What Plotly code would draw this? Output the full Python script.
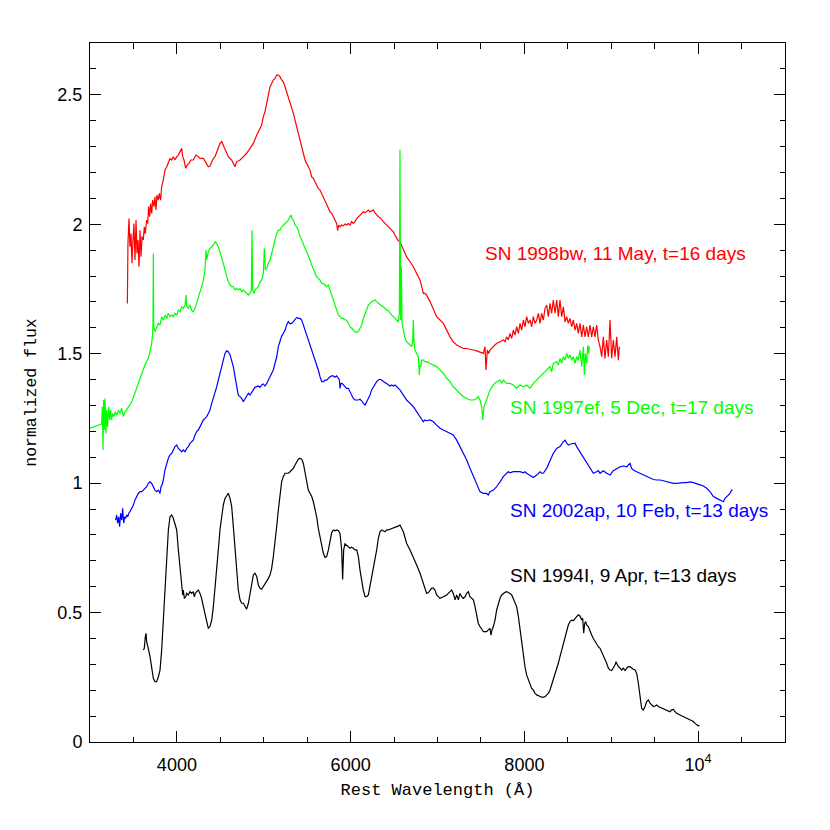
import plotly.graph_objects as go

# ---------------- data (rest wavelength in Angstrom, normalized flux) ----------------
wl_98bw = [3430, 3437, 3449, 3460, 3472, 3483, 3495, 3506, 3518, 3530, 3541, 3553, 3564, 3576, 3587, 3599,
           3614, 3625, 3637, 3652, 3664, 3675, 3687, 3698, 3710, 3721, 3737, 3748, 3760, 3771, 3787, 3798,
           3813, 3825, 3844, 3863, 3883, 3902, 3921, 3940, 3959, 3978, 3998, 4017, 4036, 4055, 4067, 4082,
           4101, 4120, 4140, 4159, 4189, 4220, 4247, 4266, 4305, 4343, 4362, 4381, 4401, 4420, 4439, 4458,
           4477, 4496, 4516, 4535, 4554, 4573, 4592, 4612, 4631, 4650, 4669, 4688, 4727, 4765, 4803, 4842,
           4880, 4919, 4957, 4976, 4995, 5014, 5034, 5053, 5072, 5091, 5110, 5130, 5149, 5168, 5187, 5206,
           5225, 5245, 5264, 5283, 5302, 5321, 5341, 5360, 5379, 5398, 5417, 5437, 5456, 5475, 5494, 5513,
           5532, 5552, 5571, 5590, 5609, 5628, 5648, 5667, 5686, 5705, 5724, 5744, 5763, 5782, 5801, 5820,
           5839, 5851, 5862, 5878, 5897, 5916, 5935, 5954, 5974, 5993, 6012, 6031, 6050, 6070, 6089, 6108,
           6127, 6146, 6166, 6185, 6204, 6223, 6242, 6262, 6281, 6300, 6319, 6338, 6357, 6377, 6396, 6415,
           6434, 6453, 6473, 6492, 6511, 6530, 6549, 6568, 6607, 6645, 6684, 6722, 6760, 6799, 6818, 6837,
           6856, 6875, 6914, 6952, 6990, 7029, 7067, 7106, 7144, 7182, 7221, 7259, 7297, 7336, 7374, 7413,
           7451, 7489, 7528, 7547, 7558, 7574, 7589, 7604, 7643, 7681, 7720, 7758, 7777, 7796, 7815, 7835,
           7854, 7873, 7892, 7911, 7931, 7950, 7969, 7988, 8007, 8026, 8046, 8065, 8084, 8103, 8122, 8142,
           8161, 8180, 8199, 8218, 8238, 8257, 8276, 8295, 8314, 8333, 8353, 8372, 8391, 8410, 8429, 8449,
           8468, 8487, 8506, 8525, 8544, 8564, 8583, 8602, 8621, 8640, 8660, 8679, 8698, 8717, 8736, 8756,
           8775, 8794, 8813, 8832, 8851, 8871, 8890, 8909, 8928, 8947, 8967, 8986, 9005, 9024, 9043, 9063,
           9082, 9093]
fx_98bw = [1.694, 1.926, 2.022, 1.913, 1.964, 1.849, 1.939, 2.003, 1.862, 2.016, 1.887, 1.939, 1.836, 1.977, 1.874, 1.952,
           1.939, 1.990, 1.964, 2.016, 2.003, 2.068, 2.029, 2.080, 2.042, 2.093, 2.068, 2.106, 2.055, 2.113, 2.093, 2.119,
           2.093, 2.145, 2.171, 2.209, 2.222, 2.235, 2.254, 2.248, 2.261, 2.248, 2.261, 2.267, 2.280, 2.293, 2.261, 2.248,
           2.216, 2.229, 2.235, 2.248, 2.248, 2.267, 2.261, 2.254, 2.254, 2.235, 2.222, 2.225, 2.241, 2.254, 2.261, 2.280,
           2.293, 2.312, 2.319, 2.306, 2.293, 2.280, 2.261, 2.254, 2.248, 2.235, 2.222, 2.241, 2.248, 2.261, 2.274, 2.293,
           2.312, 2.344, 2.370, 2.383, 2.415, 2.434, 2.467, 2.505, 2.531, 2.544, 2.557, 2.563, 2.576, 2.576, 2.570, 2.557,
           2.550, 2.531, 2.512, 2.492, 2.473, 2.454, 2.428, 2.402, 2.377, 2.351, 2.325, 2.293, 2.267, 2.248, 2.235, 2.222,
           2.209, 2.183, 2.177, 2.164, 2.151, 2.138, 2.132, 2.119, 2.106, 2.093, 2.080, 2.061, 2.048, 2.042, 2.029, 2.016,
           2.003, 1.975, 1.997, 1.990, 1.997, 1.994, 2.001, 1.997, 2.003, 1.997, 2.010, 2.003, 2.010, 2.022, 2.029, 2.035,
           2.042, 2.048, 2.044, 2.048, 2.055, 2.048, 2.052, 2.055, 2.044, 2.035, 2.029, 2.026, 2.016, 2.010, 2.003, 1.997,
           1.990, 1.984, 1.977, 1.971, 1.958, 1.945, 1.936, 1.932, 1.900, 1.874, 1.855, 1.836, 1.810, 1.784, 1.759, 1.733,
           1.733, 1.726, 1.701, 1.675, 1.643, 1.630, 1.617, 1.591, 1.565, 1.546, 1.533, 1.527, 1.520, 1.520, 1.516, 1.514,
           1.511, 1.507, 1.501, 1.527, 1.437, 1.514, 1.501, 1.514, 1.527, 1.540, 1.546, 1.553, 1.546, 1.565, 1.553, 1.578,
           1.559, 1.591, 1.572, 1.604, 1.578, 1.617, 1.591, 1.630, 1.604, 1.643, 1.617, 1.630, 1.604, 1.643, 1.617, 1.630,
           1.656, 1.617, 1.656, 1.630, 1.675, 1.688, 1.643, 1.694, 1.656, 1.707, 1.656, 1.707, 1.643, 1.707, 1.643, 1.681,
           1.623, 1.643, 1.617, 1.636, 1.604, 1.630, 1.591, 1.617, 1.578, 1.617, 1.565, 1.610, 1.565, 1.604, 1.565, 1.610,
           1.565, 1.604, 1.565, 1.610, 1.553, 1.527, 1.488, 1.565, 1.482, 1.553, 1.488, 1.630, 1.482, 1.553, 1.488, 1.565,
           1.475, 1.527]

wl_97ef = [3000, 3134, 3142, 3150, 3157, 3165, 3173, 3184, 3192, 3203, 3215, 3226, 3238, 3249, 3261, 3276,
           3292, 3307, 3326, 3345, 3365, 3384, 3403, 3422, 3441, 3460, 3480, 3499, 3518, 3537, 3556, 3576,
           3595, 3614, 3633, 3652, 3671, 3691, 3710, 3721, 3725, 3729, 3733, 3748, 3767, 3787, 3806, 3825,
           3844, 3863, 3883, 3902, 3921, 3940, 3959, 3978, 3998, 4017, 4036, 4055, 4074, 4094, 4105, 4113,
           4132, 4151, 4170, 4189, 4209, 4228, 4247, 4266, 4285, 4305, 4324, 4335, 4343, 4362, 4381, 4401,
           4420, 4439, 4458, 4477, 4496, 4516, 4535, 4554, 4573, 4592, 4612, 4631, 4650, 4669, 4688, 4707,
           4727, 4746, 4765, 4784, 4803, 4823, 4842, 4857, 4865, 4872, 4888, 4899, 4919, 4938, 4957, 4976,
           4995, 5007, 5018, 5034, 5053, 5072, 5091, 5110, 5130, 5149, 5168, 5187, 5206, 5225, 5245, 5264,
           5283, 5302, 5314, 5325, 5341, 5360, 5379, 5398, 5417, 5437, 5456, 5475, 5494, 5513, 5532, 5552,
           5571, 5590, 5609, 5628, 5648, 5667, 5686, 5705, 5724, 5744, 5763, 5782, 5801, 5820, 5839, 5859,
           5878, 5897, 5916, 5935, 5954, 5974, 5993, 6012, 6031, 6050, 6070, 6089, 6108, 6127, 6146, 6166,
           6185, 6204, 6223, 6242, 6262, 6281, 6300, 6319, 6338, 6357, 6377, 6396, 6415, 6434, 6453, 6473,
           6492, 6511, 6530, 6549, 6561, 6568, 6576, 6584, 6592, 6607, 6626, 6645, 6664, 6684, 6703, 6714,
           6722, 6730, 6741, 6760, 6779, 6791, 6799, 6806, 6818, 6837, 6856, 6875, 6914, 6952, 6990, 7029,
           7067, 7106, 7144, 7182, 7221, 7259, 7297, 7336, 7374, 7413, 7451, 7470, 7489, 7509, 7520, 7535,
           7558, 7578, 7604, 7643, 7681, 7720, 7739, 7758, 7796, 7835, 7873, 7911, 7950, 7988, 8026, 8065,
           8103, 8142, 8180, 8218, 8257, 8295, 8314, 8333, 8372, 8391, 8410, 8429, 8449, 8468, 8487, 8506,
           8525, 8544, 8564, 8583, 8602, 8621, 8640, 8660, 8679, 8690, 8702, 8717, 8729, 8740, 8748]
fx_97ef = [1.212, 1.228, 1.295, 1.128, 1.321, 1.205, 1.327, 1.192, 1.282, 1.218, 1.295, 1.244, 1.282, 1.244, 1.269, 1.257,
           1.276, 1.263, 1.282, 1.269, 1.289, 1.257, 1.276, 1.282, 1.295, 1.302, 1.314, 1.334, 1.347, 1.366, 1.385, 1.405,
           1.424, 1.443, 1.456, 1.469, 1.482, 1.508, 1.540, 1.578, 1.617, 1.887, 1.604, 1.585, 1.604, 1.617, 1.610, 1.643,
           1.630, 1.649, 1.636, 1.656, 1.643, 1.649, 1.643, 1.656, 1.649, 1.668, 1.662, 1.681, 1.675, 1.688, 1.726, 1.681,
           1.675, 1.688, 1.668, 1.662, 1.675, 1.694, 1.713, 1.733, 1.759, 1.784, 1.823, 1.900, 1.862, 1.894, 1.907, 1.913,
           1.920, 1.932, 1.926, 1.913, 1.894, 1.874, 1.849, 1.823, 1.797, 1.778, 1.765, 1.759, 1.759, 1.746, 1.752, 1.746,
           1.752, 1.739, 1.746, 1.739, 1.733, 1.726, 1.733, 1.746, 1.977, 1.746, 1.733, 1.746, 1.752, 1.759, 1.778, 1.784,
           1.810, 1.907, 1.823, 1.829, 1.849, 1.862, 1.887, 1.913, 1.939, 1.964, 1.977, 1.977, 1.990, 1.997, 2.003, 2.010,
           2.016, 2.029, 2.035, 2.022, 2.016, 1.997, 1.990, 1.977, 1.952, 1.939, 1.920, 1.907, 1.894, 1.881, 1.862, 1.842,
           1.829, 1.816, 1.797, 1.791, 1.784, 1.771, 1.771, 1.765, 1.759, 1.765, 1.746, 1.726, 1.707, 1.681, 1.662, 1.649,
           1.643, 1.636, 1.636, 1.630, 1.630, 1.617, 1.604, 1.598, 1.591, 1.585, 1.582, 1.585, 1.598, 1.610, 1.636, 1.656,
           1.675, 1.688, 1.694, 1.701, 1.704, 1.707, 1.701, 1.694, 1.688, 1.684, 1.681, 1.675, 1.668, 1.666, 1.656, 1.649,
           1.643, 1.636, 1.630, 1.623, 1.656, 2.289, 1.630, 1.836, 1.617, 1.590, 1.559, 1.546, 1.540, 1.533, 1.527, 1.546,
           1.630, 1.540, 1.514, 1.501, 1.488, 1.418, 1.456, 1.450, 1.475, 1.475, 1.469, 1.469, 1.462, 1.456, 1.450, 1.437,
           1.424, 1.405, 1.392, 1.372, 1.360, 1.347, 1.334, 1.327, 1.321, 1.321, 1.327, 1.334, 1.321, 1.295, 1.244, 1.295,
           1.321, 1.334, 1.360, 1.379, 1.392, 1.398, 1.385, 1.398, 1.385, 1.385, 1.379, 1.366, 1.379, 1.372, 1.379, 1.366,
           1.385, 1.398, 1.411, 1.424, 1.437, 1.450, 1.430, 1.463, 1.469, 1.456, 1.482, 1.463, 1.488, 1.475, 1.501, 1.482,
           1.495, 1.475, 1.488, 1.463, 1.488, 1.475, 1.514, 1.450, 1.527, 1.418, 1.501, 1.463, 1.533, 1.501, 1.527]

wl_02ap = [3295, 3307, 3318, 3330, 3341, 3353, 3365, 3376, 3388, 3399, 3411, 3422, 3434, 3445, 3460, 3480,
           3499, 3518, 3537, 3556, 3576, 3595, 3614, 3633, 3652, 3671, 3691, 3710, 3729, 3748, 3767, 3787,
           3806, 3817, 3829, 3844, 3863, 3883, 3902, 3921, 3940, 3959, 3978, 3998, 4017, 4036, 4055, 4074,
           4094, 4113, 4132, 4151, 4170, 4189, 4209, 4228, 4247, 4266, 4285, 4305, 4324, 4343, 4362, 4381,
           4401, 4420, 4439, 4458, 4477, 4496, 4516, 4535, 4554, 4573, 4592, 4612, 4631, 4650, 4669, 4688,
           4707, 4727, 4746, 4765, 4777, 4788, 4803, 4823, 4842, 4861, 4880, 4899, 4919, 4938, 4957, 4976,
           4995, 5014, 5034, 5053, 5072, 5091, 5110, 5130, 5149, 5168, 5187, 5206, 5225, 5245, 5264, 5283,
           5302, 5321, 5341, 5360, 5379, 5398, 5417, 5437, 5456, 5475, 5494, 5513, 5532, 5552, 5571, 5590,
           5609, 5628, 5648, 5667, 5686, 5705, 5724, 5744, 5763, 5782, 5801, 5820, 5839, 5859, 5870, 5878,
           5889, 5901, 5916, 5935, 5954, 5974, 5993, 6012, 6031, 6050, 6070, 6089, 6108, 6127, 6146, 6166,
           6185, 6204, 6223, 6242, 6262, 6281, 6300, 6319, 6338, 6357, 6377, 6396, 6415, 6434, 6453, 6473,
           6492, 6511, 6530, 6549, 6568, 6607, 6645, 6684, 6722, 6760, 6799, 6837, 6856, 6875, 6914, 6952,
           6990, 7029, 7067, 7106, 7144, 7182, 7221, 7259, 7297, 7336, 7374, 7413, 7451, 7489, 7528, 7566,
           7585, 7604, 7643, 7681, 7720, 7758, 7796, 7815, 7835, 7873, 7911, 7950, 7988, 8007, 8026, 8065,
           8103, 8142, 8161, 8180, 8199, 8218, 8257, 8295, 8333, 8372, 8410, 8449, 8468, 8487, 8506, 8525,
           8564, 8583, 8602, 8640, 8679, 8717, 8756, 8775, 8794, 8832, 8851, 8871, 8890, 8909, 8947, 8986,
           9024, 9063, 9101, 9139, 9178, 9197, 9216, 9235, 9254, 9293, 9331, 9369, 9408, 9446, 9485, 9523,
           9561, 9600, 9638, 9676, 9715, 9753, 9792, 9830, 9868, 9907, 9945, 9983, 10022, 10060, 10099, 10137,
           10175, 10214, 10252, 10290, 10310, 10329, 10348, 10367, 10386, 10398]
fx_02ap = [0.857, 0.877, 0.845, 0.870, 0.832, 0.883, 0.857, 0.903, 0.845, 0.870, 0.864, 0.877, 0.870, 0.883, 0.890, 0.903,
           0.915, 0.935, 0.948, 0.960, 0.967, 0.967, 0.973, 0.980, 0.986, 0.999, 1.005, 0.999, 0.986, 0.973, 0.967, 0.973,
           0.960, 0.986, 0.993, 1.012, 1.051, 1.076, 1.096, 1.109, 1.115, 1.128, 1.141, 1.147, 1.134, 1.128, 1.121, 1.128,
           1.121, 1.134, 1.141, 1.154, 1.160, 1.166, 1.186, 1.199, 1.205, 1.218, 1.231, 1.244, 1.250, 1.257, 1.269, 1.282,
           1.308, 1.327, 1.347, 1.372, 1.398, 1.424, 1.450, 1.482, 1.501, 1.511, 1.508, 1.495, 1.475, 1.450, 1.411, 1.366,
           1.340, 1.334, 1.327, 1.314, 1.321, 1.327, 1.340, 1.347, 1.340, 1.353, 1.360, 1.370, 1.372, 1.375, 1.370, 1.379,
           1.383, 1.375, 1.385, 1.398, 1.405, 1.418, 1.437, 1.463, 1.488, 1.527, 1.553, 1.568, 1.578, 1.591, 1.611, 1.624,
           1.615, 1.617, 1.624, 1.633, 1.640, 1.636, 1.636, 1.630, 1.611, 1.591, 1.572, 1.559, 1.540, 1.521, 1.501, 1.475,
           1.456, 1.437, 1.411, 1.392, 1.392, 1.398, 1.398, 1.405, 1.411, 1.414, 1.414, 1.409, 1.414, 1.405, 1.398, 1.366,
           1.385, 1.385, 1.379, 1.372, 1.366, 1.366, 1.353, 1.340, 1.327, 1.321, 1.321, 1.321, 1.324, 1.318, 1.308, 1.302,
           1.314, 1.327, 1.340, 1.360, 1.372, 1.385, 1.392, 1.398, 1.401, 1.398, 1.392, 1.388, 1.385, 1.379, 1.375, 1.379,
           1.375, 1.379, 1.372, 1.366, 1.360, 1.340, 1.321, 1.308, 1.295, 1.276, 1.257, 1.237, 1.244, 1.241, 1.244, 1.237,
           1.224, 1.212, 1.205, 1.199, 1.192, 1.186, 1.166, 1.141, 1.115, 1.089, 1.057, 1.025, 0.993, 0.967, 0.960, 0.960,
           0.954, 0.967, 0.973, 0.986, 1.005, 1.025, 1.038, 1.044, 1.040, 1.044, 1.044, 1.044, 1.040, 1.044, 1.038, 1.031,
           1.022, 1.031, 1.038, 1.044, 1.038, 1.038, 1.057, 1.083, 1.115, 1.134, 1.141, 1.160, 1.166, 1.154, 1.147, 1.150,
           1.154, 1.154, 1.141, 1.121, 1.102, 1.083, 1.063, 1.051, 1.038, 1.044, 1.048, 1.038, 1.044, 1.048, 1.038, 1.031,
           1.048, 1.057, 1.063, 1.066, 1.063, 1.070, 1.076, 1.057, 1.051, 1.044, 1.038, 1.031, 1.025, 1.018, 1.014, 1.012,
           1.012, 1.009, 1.005, 1.002, 0.999, 0.999, 1.002, 1.002, 1.002, 1.005, 1.002, 0.999, 0.993, 0.989, 0.980, 0.967,
           0.948, 0.941, 0.935, 0.928, 0.941, 0.948, 0.954, 0.960, 0.973, 0.973]

wl_94I = [3614, 3625, 3637, 3645, 3652, 3664, 3675, 3691, 3702, 3714, 3729, 3748, 3767, 3787, 3806, 3825,
          3844, 3863, 3883, 3902, 3921, 3940, 3959, 3978, 3998, 4017, 4036, 4055, 4067, 4074, 4086, 4101,
          4113, 4132, 4151, 4170, 4189, 4201, 4212, 4228, 4247, 4266, 4285, 4305, 4324, 4343, 4362, 4381,
          4401, 4420, 4439, 4458, 4477, 4496, 4516, 4535, 4554, 4573, 4592, 4612, 4631, 4650, 4669, 4688,
          4707, 4727, 4746, 4765, 4784, 4803, 4823, 4842, 4861, 4880, 4899, 4919, 4938, 4957, 4976, 4995,
          5014, 5034, 5053, 5072, 5091, 5110, 5130, 5149, 5168, 5187, 5206, 5225, 5245, 5264, 5283, 5302,
          5321, 5341, 5360, 5379, 5398, 5417, 5437, 5456, 5475, 5494, 5513, 5532, 5552, 5571, 5590, 5609,
          5628, 5648, 5667, 5686, 5705, 5724, 5744, 5763, 5782, 5801, 5820, 5839, 5859, 5878, 5897, 5908,
          5920, 5935, 5954, 5974, 5993, 6012, 6031, 6050, 6070, 6089, 6108, 6127, 6146, 6166, 6185, 6204,
          6223, 6242, 6262, 6281, 6300, 6319, 6338, 6357, 6377, 6396, 6415, 6434, 6453, 6473, 6492, 6511,
          6530, 6549, 6568, 6607, 6645, 6684, 6722, 6760, 6799, 6837, 6856, 6875, 6895, 6914, 6933, 6952,
          6971, 6990, 7010, 7029, 7067, 7106, 7144, 7163, 7182, 7202, 7221, 7240, 7259, 7278, 7297, 7317,
          7336, 7355, 7374, 7393, 7413, 7432, 7451, 7470, 7489, 7509, 7528, 7547, 7566, 7585, 7604, 7616,
          7627, 7643, 7662, 7681, 7700, 7720, 7739, 7758, 7777, 7796, 7815, 7835, 7854, 7873, 7892, 7911,
          7931, 7950, 7969, 7988, 8007, 8026, 8046, 8065, 8084, 8103, 8122, 8142, 8180, 8199, 8218, 8238,
          8257, 8276, 8295, 8314, 8333, 8353, 8372, 8391, 8410, 8429, 8449, 8468, 8487, 8506, 8525, 8544,
          8564, 8583, 8602, 8621, 8640, 8660, 8671, 8683, 8694, 8706, 8717, 8736, 8756, 8775, 8794, 8813,
          8832, 8851, 8871, 8890, 8909, 8928, 8947, 8967, 8986, 9005, 9024, 9043, 9055, 9063, 9082, 9101,
          9120, 9139, 9159, 9178, 9197, 9216, 9235, 9254, 9274, 9293, 9312, 9331, 9350, 9369, 9389, 9408,
          9427, 9446, 9465, 9485, 9504, 9523, 9542, 9561, 9581, 9600, 9619, 9638, 9676, 9696, 9715, 9734,
          9753, 9792, 9830, 9868, 9907, 9945, 9964, 9983, 10003, 10014]
fx_94I = [0.355, 0.362, 0.407, 0.420, 0.388, 0.362, 0.355, 0.330, 0.304, 0.272, 0.246, 0.233, 0.233, 0.252, 0.278, 0.355,
          0.458, 0.587, 0.716, 0.819, 0.870, 0.877, 0.864, 0.845, 0.819, 0.742, 0.677, 0.613, 0.568, 0.587, 0.555, 0.561,
          0.574, 0.568, 0.581, 0.574, 0.581, 0.561, 0.574, 0.581, 0.587, 0.574, 0.555, 0.523, 0.491, 0.458, 0.439, 0.446,
          0.471, 0.523, 0.587, 0.664, 0.742, 0.819, 0.883, 0.916, 0.941, 0.954, 0.961, 0.941, 0.909, 0.832, 0.742, 0.652,
          0.587, 0.549, 0.536, 0.536, 0.523, 0.513, 0.536, 0.574, 0.613, 0.645, 0.652, 0.639, 0.606, 0.594, 0.590, 0.600,
          0.613, 0.619, 0.632, 0.645, 0.671, 0.716, 0.767, 0.832, 0.896, 0.961, 1.006, 1.025, 1.038, 1.038, 1.038, 1.044,
          1.051, 1.057, 1.070, 1.083, 1.092, 1.096, 1.092, 1.076, 1.038, 0.999, 0.973, 0.961, 0.948, 0.928, 0.903, 0.870,
          0.825, 0.793, 0.754, 0.729, 0.713, 0.716, 0.742, 0.780, 0.809, 0.819, 0.816, 0.819, 0.816, 0.806, 0.742, 0.628,
          0.742, 0.765, 0.761, 0.754, 0.748, 0.752, 0.748, 0.742, 0.742, 0.716, 0.664, 0.619, 0.587, 0.561, 0.561, 0.568,
          0.600, 0.639, 0.677, 0.697, 0.742, 0.787, 0.812, 0.819, 0.816, 0.812, 0.819, 0.819, 0.822, 0.825, 0.829, 0.832,
          0.832, 0.834, 0.838, 0.812, 0.767, 0.742, 0.716, 0.684, 0.652, 0.613, 0.587, 0.574, 0.577, 0.587, 0.594, 0.594,
          0.587, 0.568, 0.561, 0.555, 0.561, 0.568, 0.581, 0.587, 0.574, 0.549, 0.568, 0.549, 0.574, 0.561, 0.555, 0.561,
          0.574, 0.581, 0.561, 0.555, 0.549, 0.523, 0.484, 0.458, 0.446, 0.433, 0.426, 0.426, 0.426, 0.433, 0.439, 0.413,
          0.433, 0.446, 0.471, 0.510, 0.536, 0.555, 0.568, 0.574, 0.578, 0.581, 0.578, 0.574, 0.568, 0.555, 0.542, 0.523,
          0.484, 0.433, 0.381, 0.330, 0.291, 0.259, 0.240, 0.220, 0.207, 0.201, 0.188, 0.182, 0.175, 0.173, 0.173, 0.175,
          0.182, 0.188, 0.201, 0.220, 0.240, 0.259, 0.285, 0.304, 0.330, 0.355, 0.381, 0.407, 0.433, 0.452, 0.465, 0.471,
          0.469, 0.478, 0.484, 0.491, 0.487, 0.471, 0.478, 0.420, 0.458, 0.465, 0.452, 0.446, 0.426, 0.413, 0.400, 0.388,
          0.375, 0.368, 0.362, 0.349, 0.336, 0.323, 0.304, 0.285, 0.278, 0.276, 0.285, 0.297, 0.310, 0.304, 0.291, 0.285,
          0.278, 0.285, 0.276, 0.285, 0.291, 0.291, 0.285, 0.281, 0.278, 0.265, 0.227, 0.175, 0.130, 0.124, 0.137, 0.156,
          0.162, 0.150, 0.143, 0.137, 0.139, 0.143, 0.137, 0.134, 0.130, 0.128, 0.124, 0.121, 0.117, 0.124, 0.126, 0.117,
          0.111, 0.104, 0.098, 0.094, 0.085, 0.079, 0.072, 0.066, 0.062, 0.065]

series_names = ["SN 1998bw, 11 May, t=16 days", "SN 1997ef, 5 Dec, t=17 days",
                "SN 2002ap, 10 Feb, t=13 days", "SN 1994I, 9 Apr, t=13 days"]
series_colors = ["#ff0000", "#00ff00", "#0000ff", "#000000"]
label_x = [7524, 7811, 7811, 7811]
label_y = [1.885, 1.292, 0.894, 0.643]

x_tickvals = [4000, 6000, 8000, 10000]
x_ticktext = ["4000", "6000", "8000", "10<sup>4</sup>"]
y_tickvals = [0, 0.5, 1, 1.5, 2, 2.5]
y_ticktext = ["0", "0.5", "1", "1.5", "2", "2.5"]

# ---------------- figure ----------------
fig = go.Figure()
all_wl = [wl_98bw, wl_97ef, wl_02ap, wl_94I]
all_fx = [fx_98bw, fx_97ef, fx_02ap, fx_94I]
for wl, fx, name, col in zip(all_wl, all_fx, series_names, series_colors):
    fig.add_trace(go.Scatter(x=wl, y=fx, mode="lines", name=name,
                             line=dict(color=col, width=1.2), showlegend=False))

for name, col, lx, ly in zip(series_names, series_colors, label_x, label_y):
    fig.add_annotation(x=lx, y=ly, xref="x", yref="y", text=name, showarrow=False,
                       xanchor="left", yanchor="middle",
                       font=dict(family="Liberation Sans, Arial, sans-serif", size=19, color=col))

axis_common = dict(showgrid=False, zeroline=False, showline=True, linecolor="black", linewidth=1,
                   mirror="allticks", ticks="inside", ticklen=11, tickwidth=1, tickcolor="black",
                   automargin=False,
                   tickfont=dict(family="Liberation Sans, Arial, sans-serif", size=18, color="black"))

fig.update_xaxes(range=[3000, 11000], tickmode="array", tickvals=x_tickvals, ticktext=x_ticktext,
                 ticklabelstandoff=6,
                 minor=dict(dtick=500, tick0=0, ticks="inside", ticklen=5.5, tickcolor="black", tickwidth=1),
                 title=dict(text="Rest Wavelength (Å)", standoff=9,
                            font=dict(family="Liberation Mono, Courier New, monospace", size=17, color="black")),
                 **axis_common)
fig.update_yaxes(range=[0, 2.7], tickmode="array", tickvals=y_tickvals, ticktext=y_ticktext,
                 ticklabelstandoff=3,
                 minor=dict(dtick=0.1, tick0=0, ticks="inside", ticklen=5.5, tickcolor="black", tickwidth=1),
                 title=dict(text="normalized flux", standoff=16,
                            font=dict(family="Liberation Mono, Courier New, monospace", size=16.5, color="black")),
                 **axis_common)

# the page body adds an 8 px offset, so margins are shifted to land the frame at x 90-785, y 43-742
fig.update_layout(width=830, height=830, margin=dict(l=82, r=53, t=35, b=96),
                  paper_bgcolor="white", plot_bgcolor="white")

fig.write_html("out.html")
